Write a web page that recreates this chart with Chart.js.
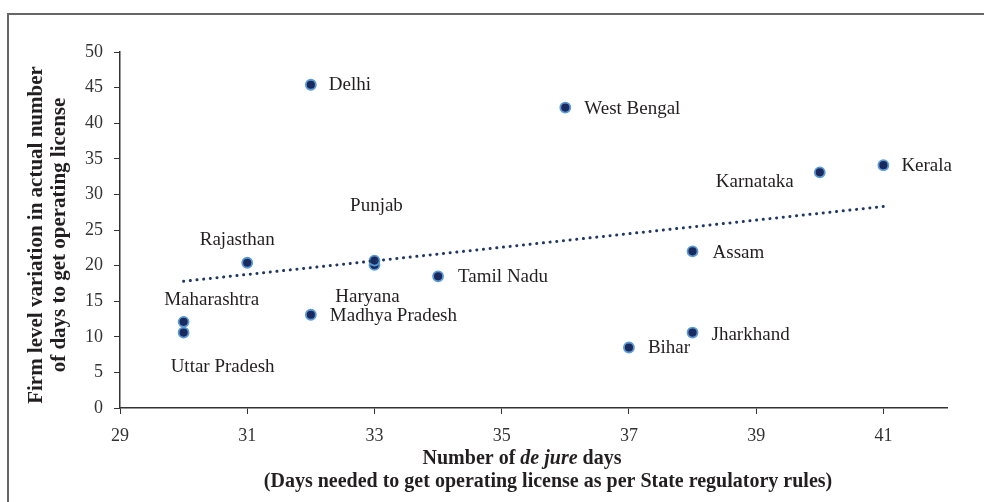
<!DOCTYPE html>
<html>
<head>
<meta charset="utf-8">
<script src="https://cdn.jsdelivr.net/npm/chart.js@4.4.1/dist/chart.umd.min.js"></script>
<style>
  html, body { margin: 0; padding: 0; background: #fff; }
  #wrap { position: relative; width: 984px; height: 502px; }
  #frame {
    position: absolute; left: 7px; top: 13px; right: -10px; bottom: -10px;
    border-top: 2px solid #666; border-left: 2px solid #666;
  }
  canvas { position: absolute; left: 0; top: 0; }
</style>
</head>
<body>
<div id="wrap">
  <div id="frame"></div>
  <canvas id="myChart" width="984" height="502"></canvas>
</div>
<script>
/*********DATA************/
const states = ["Delhi", "West Bengal", "Kerala", "Karnataka", "Assam", "Tamil Nadu", "Rajasthan",
  "Haryana", "Punjab", "Madhya Pradesh", "Maharashtra", "Uttar Pradesh", "Jharkhand", "Bihar"];
const deJureDays = [32, 36, 41, 40, 38, 34, 31, 33, 33, 32, 30, 30, 38, 37];
const actualVariation = [45.4, 42.2, 34.1, 33.1, 22.0, 18.5, 20.4, 20.1, 20.7, 13.1, 12.1, 10.6, 10.6, 8.5];

// linear trend line (endpoints)
const trendX = [30, 41];
const trendY = [17.8, 28.3];

const xTicks = [29, 31, 33, 35, 37, 39, 41];
const yTicks = [0, 5, 10, 15, 20, 25, 30, 35, 40, 45, 50];

// where each label sits relative to its point
const labelPos = {
  "Delhi": [18, 0, "left"],
  "West Bengal": [19, 1, "left"],
  "Kerala": [18, 1, "left"],
  "Karnataka": [-65, 10, "center"],
  "Assam": [20, 2, "left"],
  "Tamil Nadu": [20, 1, "left"],
  "Rajasthan": [-10, -23, "center"],
  "Haryana": [-7, 32, "center"],
  "Punjab": [2, -55, "center"],
  "Madhya Pradesh": [19, 1, "left"],
  "Maharashtra": [28, -22, "center"],
  "Uttar Pradesh": [39, 34, "center"],
  "Jharkhand": [19, 2, "left"],
  "Bihar": [19, 1, "left"],
};

const SERIF = "'Liberation Serif', 'Times New Roman', serif";
const TEXT = "#231f20";

/*********LABELS + TITLES************/
const pointLabels = {
  id: "pointLabels",
  afterDatasetsDraw(chart) {
    const c = chart.ctx;
    const meta = chart.getDatasetMeta(1);
    c.save();
    c.font = "19px " + SERIF;
    c.fillStyle = TEXT;
    c.textBaseline = "middle";
    meta.data.forEach((pt, i) => {
      const p = labelPos[states[i]];
      c.textAlign = p[2];
      c.fillText(states[i], pt.x + p[0], pt.y + p[1]);
    });
    c.restore();
  },
};

const axisTitles = {
  id: "axisTitles",
  afterDraw(chart) {
    const c = chart.ctx;
    c.save();
    c.fillStyle = TEXT;
    c.textBaseline = "middle";

    // y title, two rotated lines
    c.save();
    c.translate(37, 235);
    c.rotate(-Math.PI / 2);
    c.textAlign = "center";
    c.font = "bold 21px " + SERIF;
    c.fillText("Firm level variation in actual number", 0, 0);
    c.fillText("of days to get operating license", 0, 23);
    c.restore();

    // x title line 1 with italic "de jure"
    const parts = [
      ["Number of ", "bold 20px " + SERIF],
      ["de jure", "italic bold 20px " + SERIF],
      [" days", "bold 20px " + SERIF],
    ];
    let w = 0;
    parts.forEach((p) => { c.font = p[1]; w += c.measureText(p[0]).width; });
    let x = 522 - w / 2;
    c.textAlign = "left";
    parts.forEach((p) => {
      c.font = p[1];
      c.fillText(p[0], x, 459);
      x += c.measureText(p[0]).width;
    });

    c.textAlign = "center";
    c.font = "bold 20px " + SERIF;
    c.fillText("(Days needed to get operating license as per State regulatory rules)", 548, 482);
    c.restore();
  },
};

/*********SCATTER CHART************/
const ctx = document.getElementById("myChart");

new Chart(ctx, {
  type: "scatter",
  data: {
    datasets: [
      {
        type: "line",
        data: trendX.map((x, i) => ({ x: x, y: trendY[i] })),
        borderColor: "#1f3864",
        borderWidth: 3,
        borderDash: [0.1, 6.6],
        borderCapStyle: "round",
        pointRadius: 0,
        fill: false,
      },
      {
        data: deJureDays.map((x, i) => ({ x: x, y: actualVariation[i] })),
        backgroundColor: "#1b2a5e",
        borderColor: "#5b9bd5",
        borderWidth: 1.8,
        pointRadius: 5,
      },
    ],
  },
  options: {
    responsive: false,
    animation: false,
    layout: { padding: { left: 0, top: 52, right: 37, bottom: 0 } },
    scales: {
      x: {
        type: "linear",
        min: 29,
        max: 42,
        afterFit: (s) => { s.height = 94; },
        afterBuildTicks: (s) => { s.ticks = xTicks.map((v) => ({ value: v })); },
        grid: { drawOnChartArea: false, drawTicks: true, tickLength: 6, color: "#333" },
        border: { display: true, color: "#333", width: 1.5 },
        ticks: { color: "#333", padding: 11, font: { size: 18, family: SERIF } },
      },
      y: {
        min: 0,
        max: 50,
        afterFit: (s) => { s.width = 120; },
        afterBuildTicks: (s) => { s.ticks = yTicks.map((v) => ({ value: v })); },
        grid: { drawOnChartArea: false, drawTicks: true, tickLength: 6, color: "#333" },
        border: { display: true, color: "#333", width: 1.5 },
        ticks: { color: "#333", padding: 11, font: { size: 18, family: SERIF } },
      },
    },
    plugins: {
      legend: { display: false },
      tooltip: { enabled: false },
    },
  },
  plugins: [pointLabels, axisTitles],
});
</script>
</body>
</html>
